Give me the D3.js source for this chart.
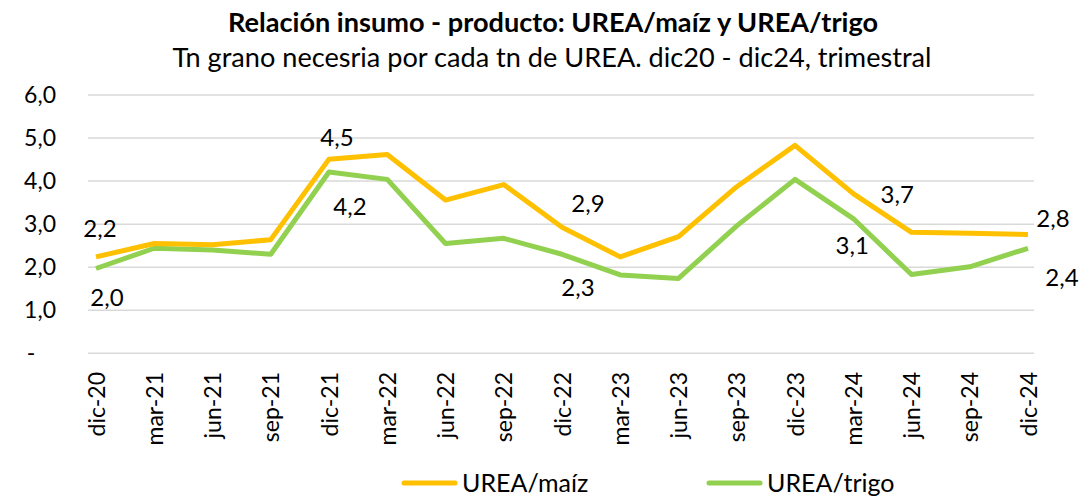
<!DOCTYPE html>
<html>
<head>
<meta charset="utf-8">
<script src="https://cdn.jsdelivr.net/npm/d3@7"></script>
<style>
    body { margin: 0; background: #fff; }
    svg text { font-family: Lato, 'Open Sans', sans-serif; fill: #000; }
</style>
</head>
<body>
<svg id="chart" width="1083" height="497"></svg>
<script>
var quarters = ['dic-20', 'mar-21', 'jun-21', 'sep-21', 'dic-21', 'mar-22', 'jun-22', 'sep-22', 'dic-22',
    'mar-23', 'jun-23', 'sep-23', 'dic-23', 'mar-24', 'jun-24', 'sep-24', 'dic-24'];
var ureaMaiz = [2.24, 2.55, 2.52, 2.64, 4.51, 4.62, 3.56, 3.92, 2.93, 2.24, 2.71, 3.87, 4.83, 3.71, 2.81, 2.79, 2.76];
var ureaTrigo = [1.97, 2.44, 2.40, 2.30, 4.21, 4.04, 2.55, 2.67, 2.30, 1.82, 1.74, 2.96, 4.04, 3.13, 1.83, 2.01, 2.44];
var yTicks = [0, 1, 2, 3, 4, 5, 6];

// which points carry a value label, and where the label sits relative to the point
var maizLabels = [
    { i: 0, dx: 4, dy: -28 }, { i: 4, dx: 8, dy: -22 }, { i: 8, dx: 26, dy: -24 },
    { i: 13, dx: 44, dy: 1 }, { i: 16, dx: 25, dy: -16 }
];
var trigoLabels = [
    { i: 0, dx: 11, dy: 29 }, { i: 4, dx: 21, dy: 35 }, { i: 8, dx: 16, dy: 33 },
    { i: 13, dx: -1, dy: 27 }, { i: 16, dx: 34, dy: 29 }
];

(function() {
    var svg = d3.select('#chart');

    var x = d3.scalePoint()
        .domain(quarters)
        .range([96, 1028]);

    var y = d3.scaleLinear()
        .domain([0, 6])
        .range([353.3, 95]);

    var fmt = function(v) {
        return v === 0 ? '-' : d3.format('.1f')(v).replace('.', ',');
    };

    // shrink or grow a text's font until it spans the wanted width
    var fitWidth = function(sel, size, width) {
        sel.style('font-size', size + 'px');
        var w = sel.node().getComputedTextLength();
        sel.style('font-size', (size * width / w).toFixed(2) + 'px');
        return sel;
    };

    var title = svg.append('text')
        .attr('x', 553).attr('y', 32)
        .attr('text-anchor', 'middle')
        .style('font-weight', 'bold')
        .text('Relación insumo - producto: UREA/maíz y UREA/trigo');
    fitWidth(title, 24, 650);

    var subtitle = svg.append('text')
        .attr('x', 552).attr('y', 67)
        .attr('text-anchor', 'middle')
        .text('Tn grano necesria por cada tn de UREA. dic20 - dic24, trimestral');
    fitWidth(subtitle, 24, 759);

    // gridlines
    svg.append('g').selectAll('line')
        .data(yTicks)
        .enter().append('line')
        .attr('x1', 88).attr('x2', 1034)
        .attr('y1', function(d) { return y(d); })
        .attr('y2', function(d) { return y(d); })
        .attr('stroke', '#d9d9d9')
        .attr('stroke-width', 1.5);

    var yAxis = svg.append('g')
        .attr('transform', 'translate(56, 0)')
        .call(d3.axisLeft(y).tickValues(yTicks).tickFormat(fmt).tickSize(0).tickPadding(0));
    yAxis.select('.domain').remove();
    yAxis.selectAll('text')
        .style('font-size', '23px')
        .attr('text-anchor', function(d) { return d === 0 ? 'middle' : 'end'; })
        .attr('dx', function(d) { return d === 0 ? '-25' : '0'; });

    var xAxis = svg.append('g')
        .attr('transform', 'translate(0, 362)')
        .call(d3.axisBottom(x).tickSize(0).tickPadding(0));
    xAxis.select('.domain').remove();
    xAxis.selectAll('text')
        .style('font-size', '23px')
        .attr('text-anchor', 'end')
        .attr('transform', 'rotate(-90)')
        .attr('x', -10)
        .attr('y', 0)
        .attr('dy', '0.35em');

    var line = d3.line()
        .x(function(d, i) { return x(quarters[i]); })
        .y(function(d) { return y(d); });

    var series = [
        { values: ureaTrigo, color: '#92D050', labels: trigoLabels },
        { values: ureaMaiz, color: '#FFC000', labels: maizLabels }
    ];

    series.forEach(function(s) {
        svg.append('path')
            .datum(s.values)
            .attr('fill', 'none')
            .attr('stroke', s.color)
            .attr('stroke-width', 5)
            .attr('stroke-linejoin', 'round')
            .attr('d', line);

        svg.append('g').selectAll('text')
            .data(s.labels)
            .enter().append('text')
            .attr('x', function(d) { return x(quarters[d.i]) + d.dx; })
            .attr('y', function(d) { return y(s.values[d.i]) + d.dy; })
            .attr('dy', '0.35em')
            .attr('text-anchor', 'middle')
            .style('font-size', '24px')
            .text(function(d) { return fmt(s.values[d.i]); });
    });

    var legend = [
        { name: 'UREA/maíz', color: '#FFC000', x: 402 },
        { name: 'UREA/trigo', color: '#92D050', x: 707 }
    ];

    legend.forEach(function(l) {
        svg.append('line')
            .attr('x1', l.x + 2).attr('x2', l.x + 53)
            .attr('y1', 483).attr('y2', 483)
            .attr('stroke', l.color)
            .attr('stroke-width', 5)
            .attr('stroke-linecap', 'round');
        svg.append('text')
            .attr('x', l.x + 60).attr('y', 483)
            .attr('dy', '0.35em')
            .style('font-size', '25px')
            .text(l.name);
    });
})();
</script>
</body>
</html>
